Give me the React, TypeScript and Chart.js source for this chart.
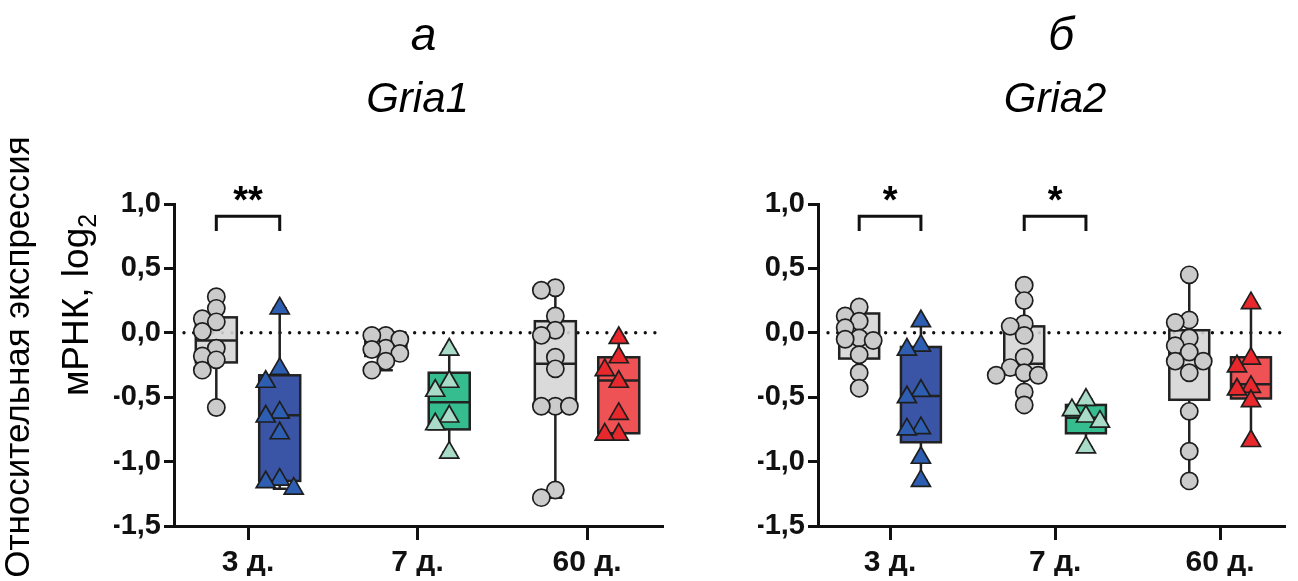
import React, { useEffect, useRef } from 'react';
import { Chart, registerables } from 'chart.js';

Chart.register(...registerables);

// ---------- data ----------
const categories = ['3 д.', '7 д.', '60 д.'];
const yTickValues = [-1.5, -1.0, -0.5, 0, 0.5, 1.0];

// Gria1 (panel а)
const gria1Control = [
  [0.28, 0.19, 0.11, 0.085, 0.01, -0.12, -0.18, -0.21, -0.29, -0.58],
  [-0.02, -0.02, -0.05, -0.12, -0.13, -0.16, -0.22, -0.29],
  [0.35, 0.33, 0.13, 0.02, -0.02, -0.19, -0.28, -0.57, -0.57, -0.57, -1.22, -1.28],
];
const gria1Treated = [
  [0.19, -0.28, -0.38, -0.62, -0.65, -0.78, -1.14, -1.16, -1.21],
  [-0.13, -0.38, -0.45, -0.65, -0.71, -0.93],
  [-0.04, -0.19, -0.29, -0.38, -0.63, -0.79, -0.79],
];
// [min, q1, median, q3, max]
const gria1ControlBoxes = [
  [-0.58, -0.23, -0.06, 0.12, 0.28],
  [-0.29, -0.18, -0.12, -0.04, -0.02],
  [-1.28, -0.57, -0.24, 0.09, 0.35],
];
const gria1TreatedBoxes = [
  [-1.21, -1.15, -0.64, -0.33, 0.19],
  [-0.93, -0.75, -0.54, -0.31, -0.13],
  [-0.79, -0.78, -0.37, -0.19, -0.04],
];
const gria1Significance = [{ category: 0, label: '**' }];

// Gria2 (panel б)
const gria2Control = [
  [0.2, 0.13, 0.09, 0.04, -0.04, -0.05, -0.06, -0.17, -0.31, -0.43],
  [0.37, 0.25, 0.07, 0.05, -0.02, -0.19, -0.27, -0.31, -0.33, -0.33, -0.46, -0.56],
  [0.45, 0.1, 0.08, -0.04, -0.1, -0.15, -0.22, -0.22, -0.31, -0.61, -0.92, -1.15],
];
const gria2Treated = [
  [0.09, -0.1, -0.13, -0.45, -0.5, -0.74, -0.75, -0.97, -1.15],
  [-0.52, -0.6, -0.65, -0.69, -0.89],
  [0.23, -0.2, -0.26, -0.42, -0.44, -0.53, -0.84],
];
const gria2ControlBoxes = [
  [-0.43, -0.2, -0.02, 0.15, 0.2],
  [-0.56, -0.32, -0.24, 0.05, 0.37],
  [-1.15, -0.52, -0.19, 0.02, 0.45],
];
const gria2TreatedBoxes = [
  [-1.15, -0.85, -0.49, -0.11, 0.09],
  [-0.89, -0.78, -0.66, -0.56, -0.52],
  [-0.84, -0.51, -0.4, -0.19, 0.23],
];
const gria2Significance = [
  { category: 0, label: '*' },
  { category: 1, label: '*' },
];

const yLabelLine1 = 'Относительная экспрессия';
const yLabelLine2 = 'мРНК, log';
const yLabelSub = '2';

// ---------- styles ----------
const FONT = '"Liberation Sans", Arial, Helvetica, sans-serif';
const INK = '#111111';
const CONTROL_BOX_FILL = 'rgba(214,214,214,0.9)';
const CONTROL_POINT_FILL = '#cbcbcb';
const TREATED_BOX_FILL = ['#3a55a5', '#36bd8f', '#ee5254'];
const TREATED_POINT_FILL = ['#2d5eb2', '#a9dcc8', '#e8282c'];
const GROUP_OFFSET = 0.187;
const BOX_HALF = 0.121;
const BRACKET_TOP = 0.905;
const BRACKET_LEG = 0.79;
const STAR_BASE = 0.93;

type Panel = {
  control: number[][];
  treated: number[][];
  controlBoxes: number[][];
  treatedBoxes: number[][];
  significance: { category: number; label: string }[];
  letter: string;
  gene: string;
  xMax: number;
  padLeft: number;
  padRight: number;
  yLabel: boolean;
};

function drawBox(ctx: CanvasRenderingContext2D, x: any, y: any, xv: number, stats: number[], fill: string) {
  const [mn, q1, med, q3, mx] = stats;
  const cx = x.getPixelForValue(xv);
  const half = x.getPixelForValue(xv + BOX_HALF) - cx;
  const cap = 7;
  const py = (v: number) => y.getPixelForValue(v);
  ctx.save();
  ctx.strokeStyle = '#222';
  ctx.lineWidth = 2.5;
  ctx.beginPath();
  ctx.moveTo(cx, py(mx));
  ctx.lineTo(cx, py(q3));
  ctx.moveTo(cx, py(q1));
  ctx.lineTo(cx, py(mn));
  ctx.moveTo(cx - cap, py(mx));
  ctx.lineTo(cx + cap, py(mx));
  ctx.moveTo(cx - cap, py(mn));
  ctx.lineTo(cx + cap, py(mn));
  ctx.stroke();
  ctx.fillStyle = fill;
  ctx.fillRect(cx - half, py(q3), 2 * half, py(q1) - py(q3));
  ctx.strokeRect(cx - half, py(q3), 2 * half, py(q1) - py(q3));
  ctx.beginPath();
  ctx.moveTo(cx - half, py(med));
  ctx.lineTo(cx + half, py(med));
  ctx.stroke();
  ctx.restore();
}

const swarmPlugin = {
  id: 'swarm',
  afterDatasetsUpdate(chart: any) {
    const step = 14;
    chart.data.datasets.forEach((ds: any, i: number) => {
      const meta = chart.getDatasetMeta(i);
      const gap = ds.swarmGap || 12;
      const placed: { x: number; y: number }[] = [];
      meta.data.forEach((el: any) => {
        const cx = el.x;
        for (let k = 0; k < 9; k++) {
          const off = k === 0 ? 0 : (k % 2 === 1 ? -1 : 1) * Math.ceil(k / 2) * step;
          const nx = cx + off;
          const ok = placed.every((p) => Math.abs(p.x - nx) > 1 || Math.abs(p.y - el.y) >= gap);
          if (ok) {
            el.x = nx;
            placed.push({ x: nx, y: el.y });
            break;
          }
        }
      });
    });
  },
};

function decorPlugin(panel: Panel) {
  return {
    id: 'decor',
    beforeDatasetsDraw(chart: any) {
      const { ctx, chartArea } = chart;
      const x = chart.scales.x;
      const y = chart.scales.y;
      const y0 = y.getPixelForValue(0);
      ctx.save();
      ctx.strokeStyle = INK;
      ctx.lineWidth = 3.4;
      ctx.lineCap = 'round';
      ctx.setLineDash([0.01, 9.6]);
      ctx.beginPath();
      ctx.moveTo(chartArea.left + 10, y0);
      ctx.lineTo(chartArea.right, y0);
      ctx.stroke();
      ctx.restore();
      categories.forEach((_, i) => {
        drawBox(ctx, x, y, i + 1 - GROUP_OFFSET, panel.controlBoxes[i], CONTROL_BOX_FILL);
        drawBox(ctx, x, y, i + 1 + GROUP_OFFSET, panel.treatedBoxes[i], TREATED_BOX_FILL[i]);
      });
    },
    afterDraw(chart: any) {
      const { ctx } = chart;
      const x = chart.scales.x;
      const y = chart.scales.y;
      ctx.save();
      ctx.fillStyle = '#000';
      ctx.strokeStyle = INK;
      // titles
      const tx = x.getPixelForValue(2);
      ctx.textAlign = 'center';
      ctx.textBaseline = 'alphabetic';
      ctx.font = `italic 46px ${FONT}`;
      ctx.fillText(panel.letter, tx + 6, 50);
      ctx.font = `italic 42px ${FONT}`;
      ctx.fillText(panel.gene, tx, 112);
      // significance brackets
      panel.significance.forEach((s) => {
        const x1 = x.getPixelForValue(s.category + 1 - GROUP_OFFSET);
        const x2 = x.getPixelForValue(s.category + 1 + GROUP_OFFSET);
        const yt = y.getPixelForValue(BRACKET_TOP);
        const yb = y.getPixelForValue(BRACKET_LEG);
        ctx.lineWidth = 3;
        ctx.lineJoin = 'miter';
        ctx.beginPath();
        ctx.moveTo(x1, yb);
        ctx.lineTo(x1, yt);
        ctx.lineTo(x2, yt);
        ctx.lineTo(x2, yb);
        ctx.stroke();
        ctx.font = `bold 38px ${FONT}`;
        ctx.textAlign = 'center';
        ctx.fillText(s.label, (x1 + x2) / 2, y.getPixelForValue(STAR_BASE));
      });
      // y axis title
      if (panel.yLabel) {
        ctx.font = `35px ${FONT}`;
        ctx.save();
        ctx.translate(19, 357);
        ctx.rotate(-Math.PI / 2);
        ctx.textAlign = 'center';
        ctx.textBaseline = 'middle';
        ctx.fillText(yLabelLine1, 0, 0);
        ctx.restore();
        ctx.save();
        ctx.translate(78, 305);
        ctx.rotate(-Math.PI / 2);
        ctx.textBaseline = 'middle';
        ctx.textAlign = 'left';
        ctx.font = `37px ${FONT}`;
        const mainW = ctx.measureText(yLabelLine2).width;
        ctx.font = `25px ${FONT}`;
        const subW = ctx.measureText(yLabelSub).width;
        const start = -(mainW + subW) / 2;
        ctx.font = `37px ${FONT}`;
        ctx.fillText(yLabelLine2, start, 0);
        ctx.font = `25px ${FONT}`;
        ctx.fillText(yLabelSub, start + mainW, 11);
        ctx.restore();
      }
      ctx.restore();
    },
  };
}

function buildConfig(panel: Panel): any {
  const datasets: any[] = [];
  categories.forEach((_, i) => {
    datasets.push({
      data: panel.control[i].map((v) => ({ x: i + 1 - GROUP_OFFSET, y: v })),
      pointStyle: 'circle',
      pointRadius: 8.6,
      backgroundColor: CONTROL_POINT_FILL,
      borderColor: '#1e1e1e',
      borderWidth: 1.7,
      clip: false,
      swarmGap: 11,
    });
    datasets.push({
      data: panel.treated[i].map((v) => ({ x: i + 1 + GROUP_OFFSET, y: v })),
      pointStyle: 'triangle',
      pointRadius: 11,
      backgroundColor: TREATED_POINT_FILL[i],
      borderColor: '#1e1e1e',
      borderWidth: 1.7,
      clip: false,
      swarmGap: 13,
    });
  });
  const axisCommon = {
    border: { display: true, width: 3, color: INK },
  };
  return {
    type: 'scatter',
    data: { datasets },
    plugins: [swarmPlugin, decorPlugin(panel)],
    options: {
      responsive: false,
      animation: false,
      devicePixelRatio: 1,
      layout: { padding: { top: 204, bottom: 5, left: panel.padLeft, right: panel.padRight } },
      plugins: { legend: { display: false }, tooltip: { enabled: false } },
      scales: {
        x: {
          type: 'linear',
          min: 0.5634,
          max: panel.xMax,
          afterBuildTicks: (s: any) => {
            s.ticks = [1, 2, 3].map((v) => ({ value: v }));
          },
          afterFit: (s: any) => {
            s.height = 50;
          },
          ticks: {
            callback: (v: any) => categories[Math.round(v) - 1],
            font: { family: FONT, size: 30, weight: 'bold' },
            color: INK,
            padding: 5,
            autoSkip: false,
            maxRotation: 0,
          },
          grid: { display: true, drawOnChartArea: false, drawTicks: true, tickLength: 14, tickWidth: 3, tickColor: INK },
          ...axisCommon,
        },
        y: {
          type: 'linear',
          min: -1.5,
          max: 1.0,
          afterBuildTicks: (s: any) => {
            s.ticks = yTickValues.map((v) => ({ value: v }));
          },
          afterFit: (s: any) => {
            s.width = 60;
          },
          ticks: {
            callback: (v: any) => Number(v).toFixed(1).replace('.', ','),
            font: { family: FONT, size: 29, weight: 'bold' },
            color: INK,
            padding: 3,
          },
          grid: { display: true, drawOnChartArea: false, drawTicks: true, tickLength: 10, tickWidth: 3, tickColor: INK },
          ...axisCommon,
        },
      },
    },
  };
}

const gria1Panel: Panel = {
  control: gria1Control,
  treated: gria1Treated,
  controlBoxes: gria1ControlBoxes,
  treatedBoxes: gria1TreatedBoxes,
  significance: gria1Significance,
  letter: 'а',
  gene: 'Gria1',
  xMax: 3.448,
  padLeft: 114,
  padRight: 17,
  yLabel: true,
};

const gria2Panel: Panel = {
  control: gria2Control,
  treated: gria2Treated,
  controlBoxes: gria2ControlBoxes,
  treatedBoxes: gria2TreatedBoxes,
  significance: gria2Significance,
  letter: 'б',
  gene: 'Gria2',
  xMax: 3.395,
  padLeft: 118,
  padRight: 0,
  yLabel: false,
};

export default function App() {
  const leftRef = useRef<HTMLCanvasElement>(null);
  const rightRef = useRef<HTMLCanvasElement>(null);
  useEffect(() => {
    Chart.defaults.font.family = FONT;
    const c1 = new Chart(leftRef.current as HTMLCanvasElement, buildConfig(gria1Panel));
    const c2 = new Chart(rightRef.current as HTMLCanvasElement, buildConfig(gria2Panel));
    return () => {
      c1.destroy();
      c2.destroy();
    };
  }, []);
  return (
    <div style={{ position: 'absolute', left: 0, top: 0, width: 1298, height: 581, overflow: 'hidden', background: '#fff' }}>
      <canvas ref={leftRef} width={680} height={581} style={{ position: 'absolute', left: 0, top: 0 }} />
      <canvas ref={rightRef} width={658} height={581} style={{ position: 'absolute', left: 640, top: 0 }} />
    </div>
  );
}
